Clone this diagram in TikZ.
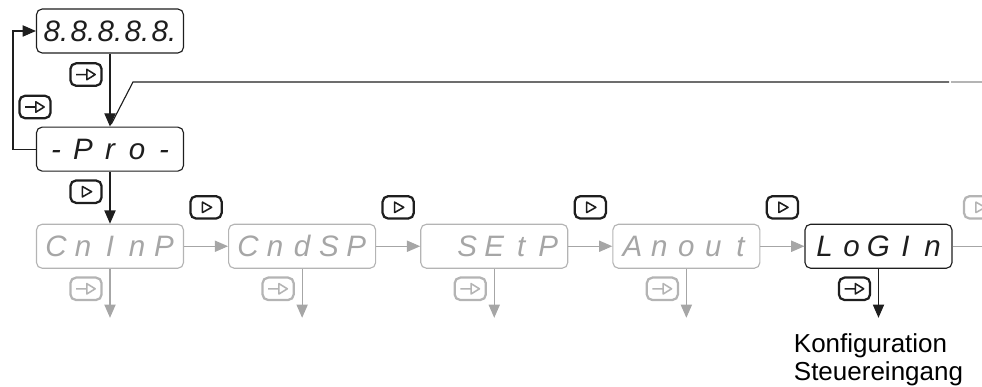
\documentclass[tikz,border=0pt]{standalone}
\usepackage{fontspec}
\setmainfont{Liberation Sans}
\definecolor{PanelBlack}{HTML}{1E1E1E}
\definecolor{PanelGray}{HTML}{B4B4B4}
\definecolor{DigitGray}{HTML}{A6A6A6}
\usetikzlibrary{arrows.meta,positioning,calc}
% five digit places of the panel display
\newcommand{\segs}[5]{\makebox[0.675cm]{#1}\makebox[0.675cm]{#2}\makebox[0.675cm]{#3}\makebox[0.675cm]{#4}\makebox[0.675cm]{#5}}
\tikzset{
  display/.style={draw=PanelBlack, rounded corners=4pt, fill=white, line width=0.8pt, minimum width=3.675cm, minimum height=1.1cm, inner sep=0pt, text=PanelBlack, font=\fontsize{21}{21}\selectfont\itshape},
  dimdisplay/.style={display, draw=PanelGray, text=DigitGray},
  keybox/.style={draw=#1, rounded corners=4pt, line width=1.6pt, fill=white, minimum width=0.78cm, minimum height=0.56cm, inner sep=0pt},
  nextkey/.style={keybox=#1, path picture={\draw[#1, sharp corners, line width=1.1pt, line join=round] ($(path picture bounding box.center)+(-0.09,0.13)$) -- ++(0,-0.26) -- ++(0.23,0.13) -- cycle;}},
  nextkey/.default=PanelBlack,
  enterkey/.style={keybox=#1, path picture={\draw[#1, sharp corners, line width=1.1pt, line join=round] ($(path picture bounding box.center)+(-0.25,0)$) -- ++(0.27,0) ++(0,0.13) -- ++(0,-0.26) -- ++(0.21,0.13) -- cycle;}},
  enterkey/.default=PanelBlack,
  arrow/.style={-{Triangle[length=3.3mm,width=2.8mm]}, line width=0.8pt, draw=PanelBlack},
  grayarrow/.style={arrow, draw=DigitGray},
  note/.style={align=left, inner sep=0pt, font=\fontsize{18.5}{19.5}\selectfont}
}
\begin{document}
\begin{tikzpicture}
\useasboundingbox (0,0) rectangle (24.55,-9.675);

% test display and programming entry
\node[display] (test) at (2.75,-0.775) {\segs{8.}{8.}{8.}{8.}{8.}};
\node[display, below=1.825cm of test] (pro) {\segs{-}{P}{r}{o}{-}};

% menu row
\node[dimdisplay, below=1.3cm of pro] (cninp) {\segs{C}{n}{I}{n}{P}};
\node[dimdisplay, right=1.1cm of cninp] (cndsp) {\segs{C}{n}{d}{S}{P}};
\node[dimdisplay, right=1.1cm of cndsp] (setp) {\segs{}{S}{E}{t}{P}};
\node[dimdisplay, right=1.1cm of setp] (anout) {\segs{A}{n}{o}{u}{t}};
\node[display, right=1.1cm of anout] (login) {\segs{L}{o}{G}{I}{n}};

% keys
\node[enterkey] (kenter) at ($(test.south)+(-0.6,-0.525)$) {};
\node[enterkey] (kback) at (0.875,-2.675) {};
\node[nextkey] (kdown) at ($(pro.south)+(-0.6,-0.5)$) {};
\node[nextkey, above=0.1cm] (knext1) at ($(cninp.north east)!0.5!(cndsp.north west)$) {};
\node[nextkey, above=0.1cm] (knext2) at ($(cndsp.north east)!0.5!(setp.north west)$) {};
\node[nextkey, above=0.1cm] (knext3) at ($(setp.north east)!0.5!(anout.north west)$) {};
\node[nextkey, above=0.1cm] (knext4) at ($(anout.north east)!0.5!(login.north west)$) {};
\node[nextkey=PanelGray, above=0.1cm] (knext5) at ($(login.north east)+(0.675,0)$) {};
\node[enterkey=PanelGray] (ksub1) at ($(cninp.south)+(-0.6,-0.5)$) {};
\node[enterkey=PanelGray] (ksub2) at ($(cndsp.south)+(-0.6,-0.5)$) {};
\node[enterkey=PanelGray] (ksub3) at ($(setp.south)+(-0.6,-0.5)$) {};
\node[enterkey=PanelGray] (ksub4) at ($(anout.south)+(-0.6,-0.5)$) {};
\node[enterkey] (ksub5) at ($(login.south)+(-0.6,-0.5)$) {};

% free ends
\coordinate (bend) at (3.325,-2.05);
\coordinate (fade) at (23.725,-2.05);
\coordinate (fadeon) at (23.775,-2.05);
\coordinate (edge) at (24.6,-2.05);
\coordinate (more) at ($(login.east)+(1.1,0)$);
\coordinate (down1) at ($(cninp.south)+(0,-1.225)$);
\coordinate (down2) at ($(cndsp.south)+(0,-1.225)$);
\coordinate (down3) at ($(setp.south)+(-0,-1.225)$);
\coordinate (down4) at ($(anout.south)+(0,-1.225)$);
\coordinate (down5) at ($(login.south)+(0,-1.225)$);

% connectors
\draw[arrow] (test) -- (pro);
\draw[arrow] (pro.west) -- ++(-0.575,0) |- (test.west);
\draw[line width=0.8pt, PanelBlack, shorten <=2pt] (pro.north) -- (bend) -- (fade);
\draw[line width=0.8pt, PanelGray] (fadeon) -- (edge);
\draw[arrow] (pro) -- (cninp);
\draw[grayarrow] (cninp) -- (cndsp);
\draw[grayarrow] (cndsp) -- (setp);
\draw[grayarrow] (setp) -- (anout);
\draw[grayarrow] (anout) -- (login);
\draw[grayarrow] (login) -- (more);
\draw[grayarrow] (cninp) -- (down1);
\draw[grayarrow] (cndsp) -- (down2);
\draw[grayarrow] (setp) -- (down3);
\draw[grayarrow] (anout) -- (down4);
\draw[arrow] (login) -- (down5);

\node[note, below=0.4cm of down5] (target) {Konfiguration\\Steuereingang};
\end{tikzpicture}
\end{document}
